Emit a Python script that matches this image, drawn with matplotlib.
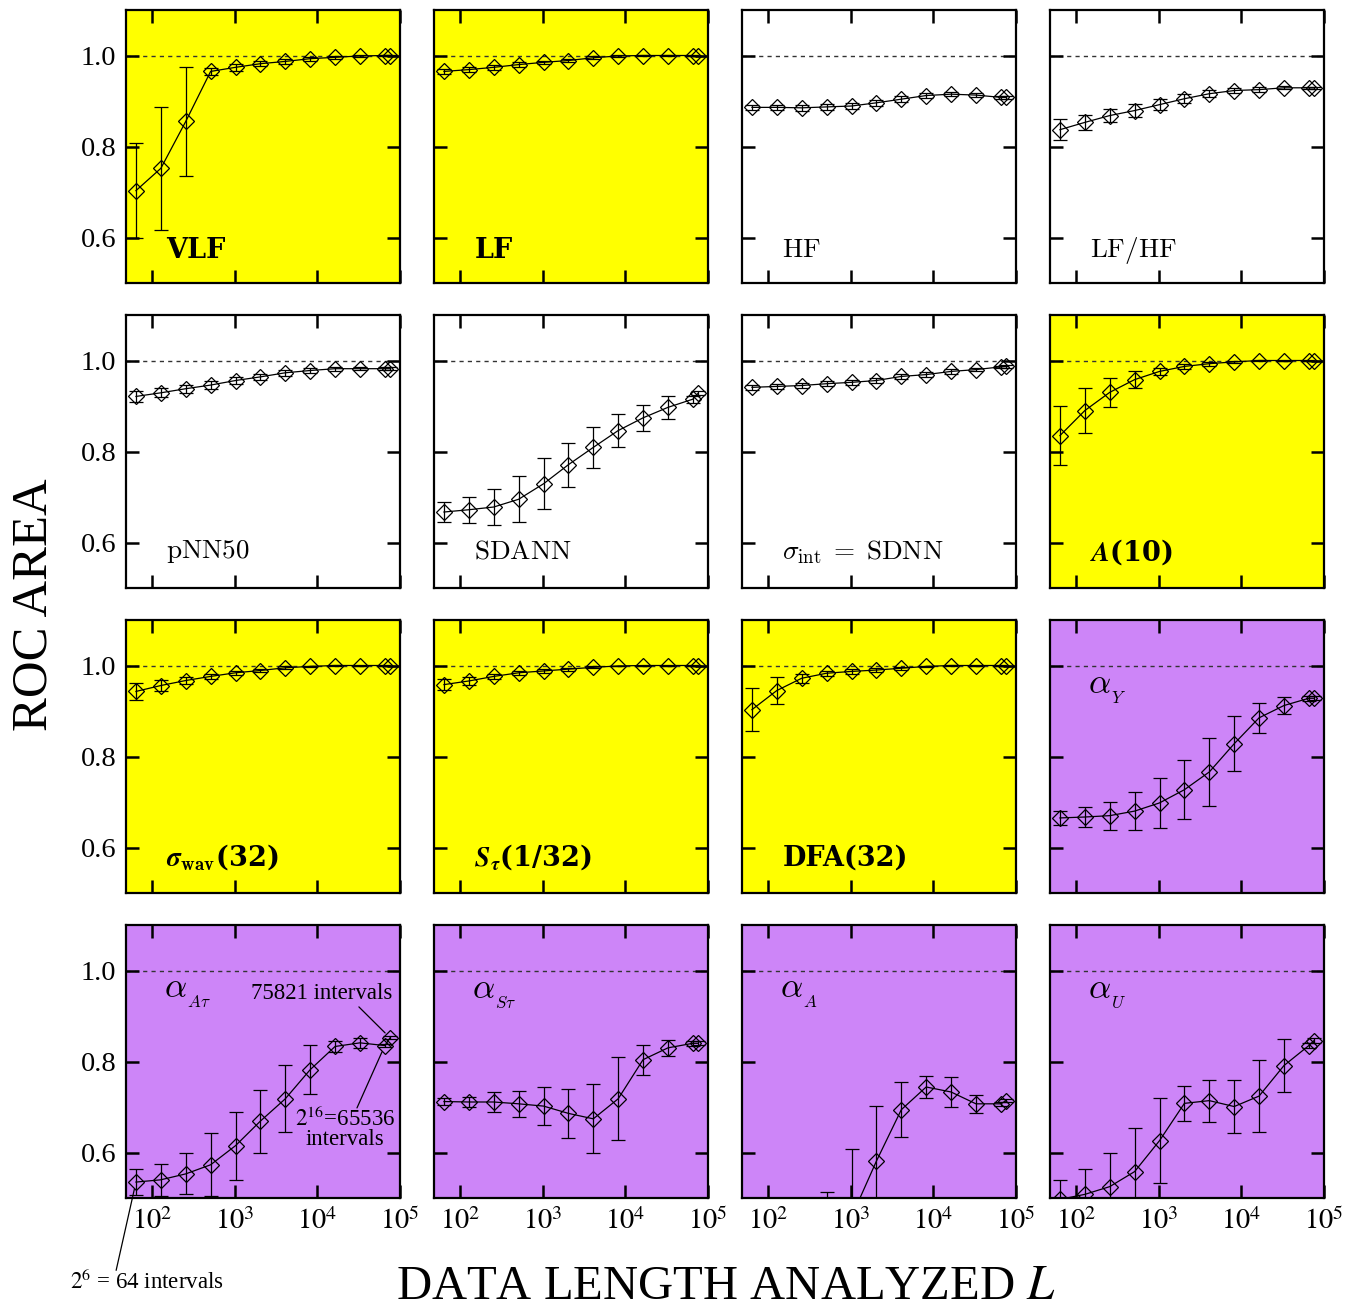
import numpy as np
import matplotlib
matplotlib.use("Agg")
import matplotlib.pyplot as plt

plt.rcParams['font.family'] = ['Liberation Serif', 'DejaVu Serif']
plt.rcParams['mathtext.fontset'] = 'stix'

# ---------------- data ----------------
L = [64, 128, 256, 512, 1024, 2048, 4096, 8192, 16384, 32768, 65536, 75821]

vlf = [0.703, 0.752, 0.855, 0.965, 0.974, 0.982, 0.987, 0.993, 0.996, 0.999, 1.0, 1.0]
vlf_err = [0.105, 0.135, 0.12, 0.008, 0.007, 0.006, 0.005, 0.004, 0.003, 0.002, 0.001, 0.001]

lf = [0.965, 0.969, 0.974, 0.980, 0.985, 0.989, 0.995, 0.999, 1.0, 1.0, 1.0, 1.0]
lf_err = [0.006, 0.006, 0.005, 0.005, 0.004, 0.004, 0.003, 0.002, 0.001, 0.001, 0.0, 0.0]

hf = [0.886, 0.886, 0.885, 0.887, 0.889, 0.896, 0.904, 0.912, 0.915, 0.913, 0.908, 0.908]
hf_err = [0.006, 0.006, 0.006, 0.006, 0.006, 0.006, 0.006, 0.006, 0.005, 0.005, 0.004, 0.004]

lfhf = [0.837, 0.853, 0.868, 0.879, 0.892, 0.905, 0.916, 0.923, 0.925, 0.929, 0.929, 0.929]
lfhf_err = [0.023, 0.017, 0.015, 0.015, 0.012, 0.010, 0.008, 0.006, 0.005, 0.003, 0.002, 0.002]

pnn50 = [0.921, 0.929, 0.938, 0.946, 0.956, 0.964, 0.973, 0.978, 0.982, 0.982, 0.982, 0.982]
pnn50_err = [0.012, 0.010, 0.009, 0.008, 0.008, 0.007, 0.006, 0.005, 0.004, 0.003, 0.003, 0.003]

sdann = [0.667, 0.672, 0.678, 0.695, 0.729, 0.771, 0.809, 0.846, 0.874, 0.897, 0.915, 0.928]
sdann_err = [0.022, 0.029, 0.040, 0.051, 0.056, 0.048, 0.045, 0.036, 0.029, 0.025, 0.008, 0.004]

sdnn = [0.941, 0.943, 0.945, 0.949, 0.952, 0.956, 0.965, 0.969, 0.976, 0.980, 0.986, 0.987]
sdnn_err = [0.006, 0.006, 0.006, 0.006, 0.006, 0.006, 0.005, 0.005, 0.005, 0.004, 0.003, 0.003]

a10 = [0.835, 0.890, 0.930, 0.958, 0.976, 0.987, 0.993, 0.997, 1.0, 1.0, 1.0, 1.0]
a10_err = [0.064, 0.049, 0.032, 0.018, 0.008, 0.005, 0.004, 0.002, 0.001, 0.0, 0.0, 0.0]

swav = [0.943, 0.956, 0.967, 0.976, 0.984, 0.989, 0.995, 0.998, 1.0, 1.0, 1.0, 1.0]
swav_err = [0.018, 0.012, 0.008, 0.006, 0.005, 0.004, 0.003, 0.002, 0.001, 0.0, 0.0, 0.0]

stau = [0.958, 0.966, 0.976, 0.984, 0.988, 0.992, 0.996, 0.999, 1.0, 1.0, 1.0, 1.0]
stau_err = [0.012, 0.008, 0.006, 0.005, 0.004, 0.003, 0.002, 0.001, 0.0, 0.0, 0.0, 0.0]

dfa = [0.903, 0.945, 0.972, 0.983, 0.987, 0.990, 0.994, 0.998, 1.0, 1.0, 1.0, 1.0]
dfa_err = [0.048, 0.030, 0.010, 0.006, 0.005, 0.004, 0.003, 0.002, 0.001, 0.0, 0.0, 0.0]

aY = [0.665, 0.667, 0.670, 0.680, 0.698, 0.727, 0.766, 0.828, 0.885, 0.912, 0.928, 0.928]
aY_err = [0.016, 0.022, 0.031, 0.041, 0.055, 0.065, 0.075, 0.060, 0.033, 0.019, 0.006, 0.004]

aAt = [0.535, 0.540, 0.553, 0.573, 0.615, 0.669, 0.718, 0.782, 0.833, 0.841, 0.835, 0.852]
aAt_err = [0.028, 0.035, 0.045, 0.069, 0.075, 0.069, 0.074, 0.054, 0.013, 0.011, 0.004, 0.003]

aSt = [0.712, 0.711, 0.711, 0.707, 0.702, 0.686, 0.674, 0.718, 0.804, 0.830, 0.840, 0.840]
aSt_err = [0.008, 0.011, 0.021, 0.029, 0.041, 0.054, 0.076, 0.091, 0.033, 0.018, 0.005, 0.004]

aA = [0.42, 0.42, 0.43, 0.43, 0.458, 0.581, 0.694, 0.744, 0.733, 0.707, 0.707, 0.714]
aA_err = [0.05, 0.05, 0.06, 0.083, 0.15, 0.122, 0.060, 0.025, 0.032, 0.020, 0.005, 0.004]

aU = [0.497, 0.508, 0.525, 0.558, 0.626, 0.708, 0.714, 0.701, 0.724, 0.791, 0.835, 0.846]
aU_err = [0.043, 0.056, 0.074, 0.096, 0.094, 0.038, 0.046, 0.059, 0.080, 0.059, 0.006, 0.005]

# (label, bold?)
labels = [
    ('VLF', True), ('LF', True), (r'$\mathrm{HF}$', False), (r'$\mathrm{LF/HF}$', False),
    (r'$\mathrm{pNN50}$', False), (r'$\mathrm{SDANN}$', False),
    (r'$\sigma_{\mathrm{int}}\;=\;\mathrm{SDNN}$', False), (r'$\boldsymbol{A}$(10)', True),
    (r'$\boldsymbol{\sigma}_{\mathbf{wav}}$(32)', True), (r'$\boldsymbol{S}_{\boldsymbol{\tau}}$(1/32)', True),
    ('DFA(32)', True), (r'$\alpha_{_Y}$', False),
    (r'$\alpha_{_{A\tau}}$', False), (r'$\alpha_{_{S\tau}}$', False), (r'$\alpha_{_A}$', False), (r'$\alpha_{_U}$', False),
]
series = [vlf, lf, hf, lfhf, pnn50, sdann, sdnn, a10, swav, stau, dfa, aY, aAt, aSt, aA, aU]
errors = [vlf_err, lf_err, hf_err, lfhf_err, pnn50_err, sdann_err, sdnn_err, a10_err,
          swav_err, stau_err, dfa_err, aY_err, aAt_err, aSt_err, aA_err, aU_err]

YEL = '#FFFF00'
PUR = '#CD85F8'
WHT = '#FFFFFF'
colors = [YEL, YEL, WHT, WHT,
          WHT, WHT, WHT, YEL,
          YEL, YEL, YEL, PUR,
          PUR, PUR, PUR, PUR]

W, H = 1349, 1310
fig = plt.figure(figsize=(W / 100, H / 100), dpi=100)

col_left = [126, 434, 742, 1050]
row_top = [10, 315, 620, 925]
pw, ph = 274, 273

axes = []
for i in range(16):
    r, c = divmod(i, 4)
    ax = fig.add_axes([col_left[c] / W, 1 - (row_top[r] + ph) / H, pw / W, ph / H])
    axes.append(ax)
    ax.set_facecolor(colors[i])
    ax.set_xscale('log')
    ax.set_xlim(48.5, 1e5)
    ax.set_ylim(0.5, 1.1)
    ax.axhline(1.0, ls=(0, (3, 3)), lw=1.0, color='#333333', zorder=1)
    ax.errorbar(L, series[i], yerr=errors[i], fmt='-', color='black', lw=0.9,
                elinewidth=0.9, capsize=4.7, capthick=0.9, zorder=3)
    ax.plot(L, series[i], ls='none', marker='D', ms=8.4, mfc='none', mec='black',
            mew=0.9, zorder=4)
    ax.set_xticks([1e2, 1e3, 1e4, 1e5])
    ax.xaxis.set_minor_locator(matplotlib.ticker.NullLocator())
    ax.set_yticks([0.6, 0.8, 1.0])
    ax.tick_params(which='major', direction='in', length=9.5, width=1.8,
                   top=True, right=True, labelsize=20.5, pad=7)
    for s in ax.spines.values():
        s.set_linewidth(1.6)
    if c == 0:
        ax.set_yticklabels(['0.6', '0.8', '1.0'])
    else:
        ax.set_yticklabels([])
    if r == 3:
        ax.set_xticklabels([r'$10^{2}$', r'$10^{3}$', r'$10^{4}$', r'$10^{5}$'])
    else:
        ax.set_xticklabels([])
    txt, bold = labels[i]
    if r == 3 or i == 11:
        ax.text(0.14, 0.75 if r == 3 else 0.745, txt, transform=ax.transAxes,
                fontsize=25, ha='left', va='center', math_fontfamily='cm')
    else:
        yy = 0.12 if r == 0 else (0.132 if r == 1 else 0.128)
        if bold:
            ax.text(0.147, yy, txt, transform=ax.transAxes, family='DejaVu Serif',
                    fontweight='bold', fontsize=19.5, ha='left', va='center',
                    math_fontfamily='cm')
        else:
            ax.text(0.147, yy, txt, transform=ax.transAxes,
                    fontsize=19.5, ha='left', va='center', math_fontfamily='cm')

# annotations in alpha_Atau panel
ax = axes[12]
ax.text(0.715, 0.75, '75821 intervals', transform=ax.transAxes, fontsize=16.5,
        ha='center', va='center')
ax.annotate('', xy=(L[11], aAt[11]), xycoords='data', xytext=(0.85, 0.70),
            textcoords='axes fraction',
            arrowprops=dict(arrowstyle='-', lw=0.9, color='black', shrinkA=0, shrinkB=5))
ax.text(0.80, 0.255, r'$2^{16}$=65536' + '\nintervals', transform=ax.transAxes,
        fontsize=16.5, ha='center', va='center', linespacing=0.85)
ax.annotate('', xy=(L[10], aAt[10]), xycoords='data', xytext=(0.843, 0.33),
            textcoords='axes fraction',
            arrowprops=dict(arrowstyle='-', lw=0.9, color='black', shrinkA=0, shrinkB=5))
ax.text(0.077, -0.305, r'$2^{6}$ = 64 intervals', transform=ax.transAxes,
        fontsize=16.5, ha='center', va='center', clip_on=False)
ax.annotate('', xy=(L[0], aAt[0]), xycoords='data', xytext=(-0.036, -0.265),
            textcoords='axes fraction', annotation_clip=False,
            arrowprops=dict(arrowstyle='-', lw=0.9, color='black', shrinkA=0, shrinkB=5))

fig.text(34 / W, 1 - 605 / H, 'ROC AREA', rotation=90, fontsize=36.5,
         ha='center', va='center')
fig.text(726 / W, 1 - 1287 / H, r'DATA LENGTH ANALYZED $L$', fontsize=35,
         ha='center', va='center')

fig.savefig('out.png', dpi=100)
